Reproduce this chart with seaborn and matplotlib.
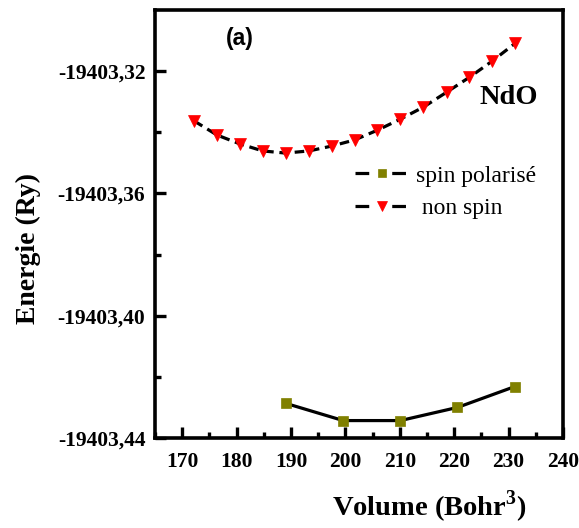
import numpy as np
import pandas as pd
import matplotlib
matplotlib.use("Agg")
import matplotlib.pyplot as plt
from matplotlib.ticker import MultipleLocator, FuncFormatter, FixedLocator
from matplotlib.lines import Line2D
import seaborn as sns

# ---- data ----
vol_nonspin = [172.2, 176.4, 180.6, 184.8, 189.0, 193.3, 197.5, 201.7,
               205.9, 210.1, 214.3, 218.6, 222.8, 227.0, 231.2]
e_nonspin = [-19403.3363, -19403.3409, -19403.3438, -19403.3461, -19403.3468,
             -19403.3461, -19403.3445, -19403.3425, -19403.3393, -19403.3357,
             -19403.3318, -19403.3269, -19403.3220, -19403.3167, -19403.3109]
vol_spin = [189.1, 199.6, 210.1, 220.6, 231.1]
e_spin = [-19403.4287, -19403.4343, -19403.4343, -19403.4300, -19403.4232]
yticks = [-19403.44, -19403.40, -19403.36, -19403.32]
label_spin = "spin polarisé"
label_nonspin = " non spin"

sns.set_style("ticks")
plt.rcParams["font.family"] = ["Liberation Serif", "DejaVu Serif"]
plt.rcParams["mathtext.fontset"] = "custom"
plt.rcParams["mathtext.rm"] = "Liberation Serif"
plt.rcParams["mathtext.bf"] = "Liberation Serif:bold"
for k in ["text.color", "axes.labelcolor", "xtick.color", "ytick.color", "axes.edgecolor"]:
    plt.rcParams[k] = "black"

fig = plt.figure(figsize=(5.79, 5.28), dpi=100)
ax = fig.add_axes([155/579, 1-438/528, (563-155)/579, (438-10)/528])

df_s = pd.DataFrame({"V": vol_spin, "E": e_spin})
df_n = pd.DataFrame({"V": vol_nonspin, "E": e_nonspin})

sns.lineplot(data=df_s, x="V", y="E", ax=ax, color="black", linewidth=2.3,
             linestyle="-", marker="s", markersize=7.5,
             markerfacecolor="#808000", markeredgecolor="#808000",
             markeredgewidth=0.5, sort=False, legend=False)
sns.lineplot(data=df_n, x="V", y="E", ax=ax, color="black", linewidth=2.3,
             linestyle=(0, (3, 1.8)), marker="v", markersize=9,
             markerfacecolor="red", markeredgecolor="red",
             markeredgewidth=0.5, sort=False, legend=False)

ax.set_xlim(165, 240)
ax.set_ylim(-19403.44, -19403.30)
ax.xaxis.set_major_locator(MultipleLocator(10))
ax.xaxis.set_minor_locator(MultipleLocator(5))
ax.yaxis.set_major_locator(FixedLocator(yticks))
ax.yaxis.set_minor_locator(FixedLocator([-19403.42, -19403.38, -19403.34]))
ax.yaxis.set_major_formatter(FuncFormatter(lambda v, p: f"{v:.2f}".replace(".", ",")))

for s in ax.spines.values():
    s.set_linewidth(2.6)
ax.tick_params(which="major", direction="in", length=8, width=2.4,
               labelsize=15.5)
ax.tick_params(axis="x", which="major", pad=10)
ax.tick_params(axis="y", which="major", pad=7)
ax.tick_params(which="minor", direction="in", length=4, width=2.4)
for lab in ax.get_xticklabels() + ax.get_yticklabels():
    lab.set_fontweight("bold")

ax.set_xlabel("")
ax.set_ylabel("")
fig.text(28/579, 1-248/528, "Energie (Ry)", rotation=90,
         fontsize=20, fontweight="bold", ha="center", va="center")
fig.text(429/579, 1-507/528, "Volume (Bohr$^\\mathbf{3}$)", fontsize=20.5,
         fontweight="bold", ha="center", va="center")

fig.text(240/579, 1-39/528, "(a)", fontsize=16.5, fontweight="bold",
         family="Liberation Sans", ha="center", va="center")
fig.text(509/579, 1-98/528, "NdO", fontsize=20.5, fontweight="bold",
         ha="center", va="center")

# legend handles in the reference style: segment, gap, marker, gap, segment
h_spin = Line2D([], [], color="black", linewidth=2.3, linestyle=(0, (4.3, 7.2)),
                marker="s", markersize=5.5, markerfacecolor="#808000",
                markeredgecolor="#808000", markeredgewidth=0.5)
h_non = Line2D([], [], color="black", linewidth=2.3, linestyle=(0, (4.3, 7.2)),
               marker="v", markersize=7, markerfacecolor="red",
               markeredgecolor="red", markeredgewidth=0.5)
ax.legend([h_spin, h_non], [label_spin, label_nonspin],
          loc="center left", bbox_to_anchor=(343/579, 1-192/528),
          bbox_transform=fig.transFigure, frameon=False, numpoints=1,
          fontsize=17, handlelength=2.3, handletextpad=0.3,
          labelspacing=0.45, borderpad=0)

fig.savefig("out.png", dpi=100)
